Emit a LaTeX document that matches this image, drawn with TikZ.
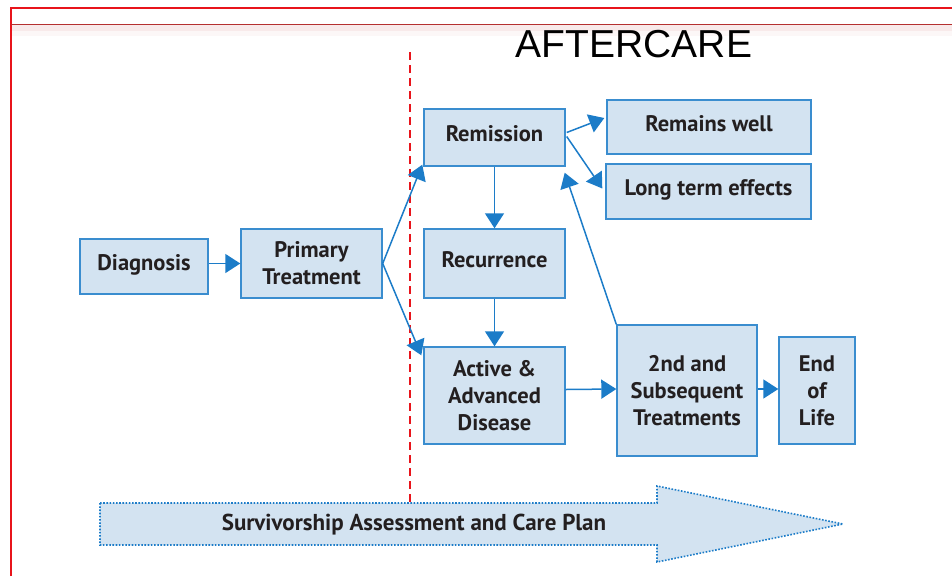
\documentclass[tikz,border=0pt]{standalone}
\usepackage{fontspec}
\newfontfamily\boxfont{PT Sans}
\newfontfamily\arialfont{Liberation Sans}
\usetikzlibrary{arrows.meta,calc}
\definecolor{boxfill}{HTML}{D3E3F1}
\definecolor{boxline}{HTML}{3A8DCF}
\definecolor{arrblue}{HTML}{1C7CC8}
\definecolor{txtgray}{HTML}{231F20}
\definecolor{frame}{HTML}{E8141B}
\definecolor{frame2}{HTML}{B5302F}
\tikzset{
  box/.style={draw=boxline, fill=boxfill, line width=1.4pt, inner sep=0pt,
    align=center, text=txtgray, font=\boxfont\bfseries\fontsize{22.5}{27}\selectfont},
  oneline/.style={text height=16pt, text depth=8pt},
  arr/.style={draw=arrblue, line width=1.5pt, -{Triangle[length=15pt,width=19pt]}},
}
\begin{document}
\begin{tikzpicture}[x=1pt,y=-1pt]
\useasboundingbox (0,0) rectangle (952,576);
% header frame
\fill[frame2!10] (12,25) rectangle (952,31);
\fill[frame2!4] (12,31) rectangle (952,36);
\draw[frame, line width=2pt] (11,576) -- (11,8) -- (952,8);
\draw[frame2, line width=1.4pt] (11,24.5) -- (952,24.5);
\node[anchor=base, font=\arialfont\fontsize{39}{44}\selectfont] (title) at (634,57) {AFTERCARE};
% red dashed divider
\draw[frame, line width=1.3pt, dash pattern=on 8pt off 5pt] (410,52) -- (410,503);
% survivorship arrow
\draw[draw=arrblue, fill=boxfill, line width=1.6pt, dash pattern=on 1.6pt off 1.6pt]
  (100,503) -- (657,503) -- (657,486) -- (843,524) -- (657,562) -- (657,545) -- (100,545) -- cycle;
\node[text=txtgray, font=\boxfont\bfseries\fontsize{23}{27}\selectfont] (plan) at (414,525) {Survivorship Assessment and Care Plan};
% boxes
\node[box, oneline, minimum width=128pt, minimum height=55pt] (diag) at (144,266.5) {Diagnosis};
\node[box, minimum width=141pt, minimum height=69pt] (prim) at (311.5,263.5) {Primary\\Treatment};
\node[box, oneline, minimum width=141pt, minimum height=57pt] (rem) at (494.5,137.5) {Remission};
\node[box, oneline, minimum width=204pt, minimum height=54pt] (well) at (709,127) {Remains well};
\node[box, oneline, minimum width=205pt, minimum height=55pt] (lte) at (708.5,191.5) {Long term effects};
\node[box, oneline, minimum width=141pt, minimum height=69pt] (rec) at (494.5,263.5) {Recurrence};
\node[box, minimum width=141pt, minimum height=97pt] (act) at (494.5,395.5) {Active \&\\Advanced\\Disease};
\node[box, minimum width=140pt, minimum height=131pt] (sub) at (687,390.5) {2nd and\\Subsequent\\Treatments};
\node[box, minimum width=76pt, minimum height=107pt] (end) at (817,390.5) {End\\of\\Life};
% connectors
\draw[arr] ($(diag.east)+(0,-3)$) -- (prim.west);
\draw[arr] (prim.east) -- ($(rem.south west)+(-1,-2)$);
\draw[arr] (prim.east) -- ($(act.north west)+(-2,9)$);
\draw[arr] (rem.south) -- (rec.north);
\draw[arr] (rec.south) -- (act.north);
\draw[arr] ($(rem.east)+(1,-5)$) -- ($(well.west)+(-2,-9)$);
\draw[arr] ($(rem.east)+(1,-1)$) -- ($(lte.west)+(-3,-3)$);
\draw[arr] (sub.north west) -- ($(rem.south east)+(-1,6)$);
\draw[arr] ($(act.east)+(0,-6)$) -- ($(sub.west)+(0,-1.5)$);
\draw[arr] ($(sub.east)+(0,-1.5)$) -- ($(end.west)+(0,-1.5)$);
\end{tikzpicture}
\end{document}
